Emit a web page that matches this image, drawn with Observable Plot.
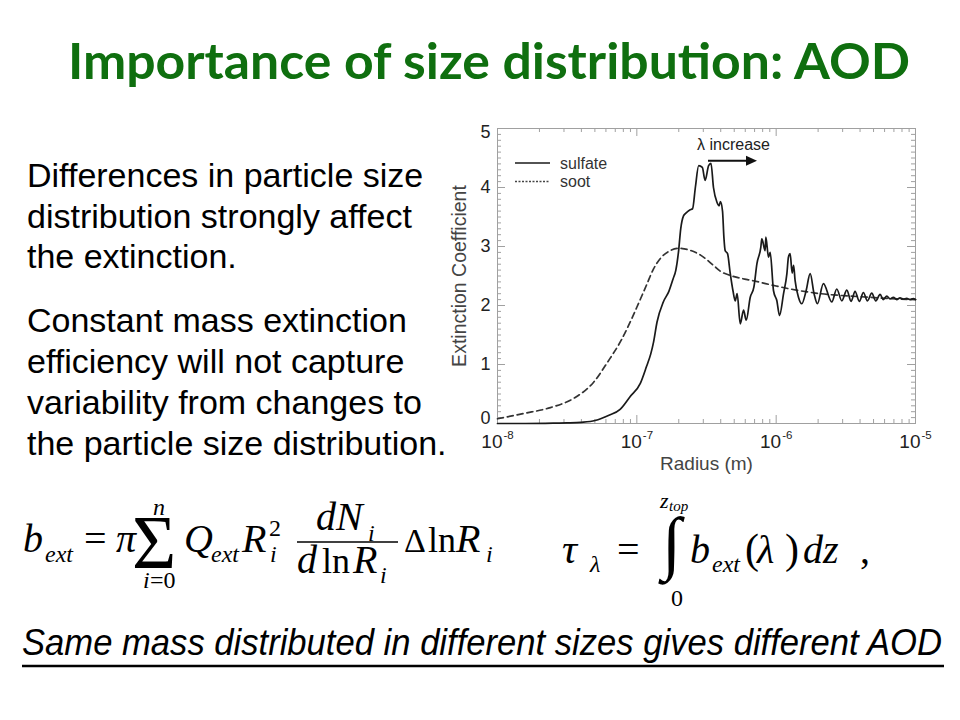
<!DOCTYPE html>
<html><head><meta charset="utf-8">
<script src="https://cdn.jsdelivr.net/npm/d3@7"></script>
<script src="https://cdn.jsdelivr.net/npm/@observablehq/plot@0.6"></script>
<style>
html,body{margin:0;padding:0;background:#fff;}
#slide{position:relative;width:960px;height:720px;overflow:hidden;background:#fff;}
#chart{position:absolute;left:440px;top:115px;}
#overlay{position:absolute;left:0;top:0;}
</style></head><body>
<div id="slide"><div id="chart"></div><svg id="overlay" width="960" height="720" xmlns="http://www.w3.org/2000/svg"></svg></div>
<script>
// ---------------- DATA ----------------
const sulfateLogR = [-8.00,-7.80,-7.60,-7.50,-7.40,-7.30,-7.20,-7.12,-7.05,-6.975,-6.93,-6.90,-6.88,-6.855,-6.81,-6.77,-6.74,-6.72,-6.70,-6.685,-6.665,-6.65,-6.62,-6.60,-6.58,-6.556,-6.53,-6.51,-6.485,-6.468,-6.45,-6.425,-6.41,-6.40,-6.385,-6.375,-6.366,-6.349,-6.33,-6.31,-6.294,-6.28,-6.258,-6.234,-6.215,-6.186,-6.16,-6.138,-6.11,-6.103,-6.079,-6.074,-6.055,-6.043,-6.019,-5.995,-5.976,-5.947,-5.923,-5.912,-5.90,-5.885,-5.875,-5.864,-5.84,-5.816,-5.785,-5.756,-5.728,-5.704,-5.661,-5.601,-5.565,-5.529,-5.493,-5.462,-5.434,-5.403,-5.374,-5.345,-5.314,-5.285,-5.254,-5.231,-5.206,-5.183,-5.159,-5.135,-5.111,-5.087,-5.063,-5.039,-5.016,-5.00];
const sulfateExt  = [0.00,0.00,0.005,0.01,0.02,0.05,0.14,0.24,0.45,0.68,0.97,1.18,1.38,1.72,2.06,2.24,2.45,2.60,2.93,3.30,3.52,3.56,3.62,3.64,4.00,4.37,4.34,4.12,4.37,4.41,4.00,3.75,3.69,3.76,3.60,3.15,2.93,2.88,2.55,2.25,2.08,2.20,1.69,1.92,1.75,2.14,2.31,2.71,2.99,3.13,2.93,3.16,2.82,2.90,2.25,2.08,1.83,2.20,2.54,2.82,2.88,2.55,2.68,2.42,2.14,2.03,2.25,2.54,2.20,2.03,2.37,2.06,2.28,2.08,2.26,2.07,2.24,2.07,2.22,2.08,2.21,2.08,2.19,2.10,2.16,2.11,2.14,2.10,2.13,2.11,2.12,2.10,2.115,2.10];
const sootLogR = [-8.00,-7.81,-7.62,-7.45,-7.31,-7.21,-7.11,-7.00,-6.93,-6.88,-6.83,-6.76,-6.70,-6.66,-6.54,-6.45,-6.40,-6.33,-6.27,-6.165,-6.00,-5.90,-5.68,-5.40,-5.20,-5.00];
const sootExt  = [0.08,0.17,0.27,0.43,0.70,1.04,1.42,1.97,2.35,2.62,2.80,2.93,2.97,2.96,2.85,2.68,2.58,2.51,2.47,2.42,2.33,2.28,2.20,2.15,2.12,2.10];
const seriesNames = ["sulfate", "soot"];
const xTickExponents = [-8, -7, -6, -5];
const yTickValues = [0, 1, 2, 3, 4, 5];
const xAxisTitle = "Radius (m)";
const yAxisTitle = "Extinction Coefficient";
const annotationText = "λ increase";
const titleText = "Importance of size distribution: AOD";
const paragraph1 = ["Differences in particle size", "distribution strongly affect", "the extinction."];
const paragraph2 = ["Constant mass extinction", "efficiency will not capture", "variability from changes to", "the particle size distribution."];
const footerText = "Same mass distributed in different sizes gives different AOD";

// ---------------- CHART ----------------
const sulfate = sulfateLogR.map((e, i) => ({r: Math.pow(10, e), v: sulfateExt[i]}));
const soot = sootLogR.map((e, i) => ({r: Math.pow(10, e), v: sootExt[i]}));
const W = 500, H = 360, mL = 57, mR = 25, mT = 13, mB = 52;
const frameH = H - mT - mB, frameW = W - mL - mR;
const majorX = xTickExponents.map(e => Math.pow(10, e));
const minorX = [];
for (const e of xTickExponents.slice(0, -1)) for (let k = 2; k <= 9; k++) minorX.push(k * Math.pow(10, e));
const minorY = d3.range(1, 50).map(k => k / 10).filter(v => Math.abs(v - Math.round(v)) > 1e-6);
const gray = "#a0a0a0";
const ink = "#222";

const chart = Plot.plot({
  width: W, height: H, marginLeft: mL, marginRight: mR, marginTop: mT, marginBottom: mB,
  x: {type: "log", domain: [1e-8, 1e-5], axis: null},
  y: {domain: [0, 5], axis: null},
  style: {fontFamily: "'Liberation Sans', Arial, sans-serif", background: "transparent", overflow: "visible"},
  marks: [
    Plot.tickX(majorX, {x: d => d, insetTop: frameH - 8, stroke: gray}),
    Plot.tickX(majorX, {x: d => d, insetBottom: frameH - 8, stroke: gray}),
    Plot.tickX(minorX, {x: d => d, insetTop: frameH - 4, stroke: gray}),
    Plot.tickX(minorX, {x: d => d, insetBottom: frameH - 4, stroke: gray}),
    Plot.tickY(yTickValues, {y: d => d, insetRight: frameW - 8, stroke: gray}),
    Plot.tickY(yTickValues, {y: d => d, insetLeft: frameW - 8, stroke: gray}),
    Plot.tickY(minorY, {y: d => d, insetRight: frameW - 4, stroke: gray}),
    Plot.tickY(minorY, {y: d => d, insetLeft: frameW - 4, stroke: gray}),
    Plot.frame({stroke: gray}),
    Plot.line(soot, {x: "r", y: "v", stroke: "#333", strokeWidth: 1.7, strokeDasharray: "6,4", curve: "monotone-x"}),
    Plot.line(sulfate, {x: "r", y: "v", stroke: "#1a1a1a", strokeWidth: 1.7, curve: "monotone-x"}),
    Plot.text(yTickValues.filter(v => v > 0 && v < 5), {y: d => d, text: d => String(d), frameAnchor: "left", textAnchor: "end", lineAnchor: "middle", dx: -7, fontSize: 18, fill: ink}),
    Plot.text(yTickValues.filter(v => v === 5), {y: d => d, text: d => String(d), frameAnchor: "left", textAnchor: "end", lineAnchor: "middle", dx: -7, dy: 4, fontSize: 18, fill: ink}),
    Plot.text(yTickValues.filter(v => v === 0), {y: d => d, text: d => String(d), frameAnchor: "left", textAnchor: "end", lineAnchor: "middle", dx: -7, dy: -5, fontSize: 18, fill: ink}),
    Plot.text(xTickExponents, {x: d => Math.pow(10, d), text: () => "10", frameAnchor: "bottom", textAnchor: "end", lineAnchor: "middle", dx: 5, dy: 18, fontSize: 19, fill: ink}),
    Plot.text(xTickExponents, {x: d => Math.pow(10, d), text: d => String(d), frameAnchor: "bottom", textAnchor: "start", lineAnchor: "middle", dx: 6, dy: 12, fontSize: 11.5, fill: ink}),
    Plot.text([xAxisTitle], {text: d => d, frameAnchor: "bottom", textAnchor: "middle", lineAnchor: "middle", dy: 40, fontSize: 19, fill: "#444"}),
    Plot.text([yAxisTitle], {text: d => d, frameAnchor: "left", textAnchor: "middle", lineAnchor: "middle", rotate: -90, dx: -38, fontSize: 19.5, fill: "#444"})
  ]
});
document.getElementById("chart").appendChild(chart);

// ---------------- SLIDE TEXT / LEGEND / ANNOTATION ----------------
const NS = "http://www.w3.org/2000/svg";
const ov = document.getElementById("overlay");
function el(tag, attrs, text) {
  const e = document.createElementNS(NS, tag);
  for (const k in attrs) e.setAttribute(k, attrs[k]);
  if (text != null) e.textContent = text;
  ov.appendChild(e);
  return e;
}
// title
el("text", {x: 68, y: 79, "font-family": "Lato, 'Open Sans', sans-serif", "font-weight": 700, "font-size": 50, fill: "#0f6f0f", textLength: 842, lengthAdjust: "spacingAndGlyphs"}, titleText);
// body text
const sans = "'Liberation Sans', Arial, sans-serif";
const base1 = [187, 228, 268], base2 = [332, 373, 414, 455];
paragraph1.forEach((t, i) => el("text", {x: 27, y: base1[i], "font-family": sans, "font-size": 34, fill: "#000"}, t));
paragraph2.forEach((t, i) => el("text", {x: 27, y: base2[i], "font-family": sans, "font-size": 34, fill: "#000"}, t));

// legend (inside chart)
el("line", {x1: 515, x2: 550, y1: 163, y2: 163, stroke: "#1a1a1a", "stroke-width": 1.7});
el("text", {x: 560, y: 169, "font-family": sans, "font-size": 16, fill: "#333"}, seriesNames[0]);
el("line", {x1: 515, x2: 550, y1: 181.5, y2: 181.5, stroke: "#444", "stroke-width": 1.3, "stroke-dasharray": "2,1.5"});
el("text", {x: 560, y: 187, "font-family": sans, "font-size": 16, fill: "#333"}, seriesNames[1]);
// annotation
el("text", {x: 697, y: 150, "font-family": sans, "font-size": 16, fill: "#222"}, annotationText);
el("line", {x1: 708, x2: 748, y1: 160.7, y2: 160.7, stroke: "#111", "stroke-width": 2});
el("path", {d: "M746,155.7 L757,160.7 L746,165.7 Z", fill: "#111"});

// formulas
const serif = "'Liberation Serif', 'Times New Roman', serif";
const pieces = [
  ["b", 23, 552, 40, 1], ["ext", 45, 562, 24, 1], ["=", 84, 552, 40, 0], ["π", 116, 552, 40, 1],
  ["Σ", 132, 568, 76, 0], ["n", 153, 515, 24, 1], ["i", 143, 588, 24, 1], ["=0", 150, 588, 24, 0],
  ["Q", 184, 552, 40, 1], ["ext", 211, 562, 24, 1], ["R", 242, 552, 40, 1], ["2", 269, 536, 24, 0], ["i", 270, 562, 24, 1],
  ["dN", 316, 530, 40, 1], ["i", 368, 541, 24, 1],
  ["d", 297, 573, 40, 1], ["ln", 322, 573, 36, 0], ["R", 353, 573, 40, 1], ["i", 380, 583, 24, 1],
  ["Δ", 404, 552, 34, 0], ["ln", 428, 552, 36, 0], ["R", 456, 552, 40, 1], ["i", 486, 562, 24, 1],
  ["τ", 562, 563, 42, 1], ["λ", 590, 572, 24, 1], ["=", 617, 563, 40, 0],
  ["∫", 662, 566, 70, 0], ["z", 660, 508, 22, 1], ["top", 669, 511, 15, 1], ["0", 671, 606, 24, 0],
  ["b", 690, 563, 40, 1], ["ext", 712, 572, 24, 1], ["(", 745, 563, 42, 0], ["λ", 757, 563, 40, 1], [")", 785, 563, 42, 0],
  ["dz", 803, 563, 40, 1], [",", 860, 563, 40, 0]
];
pieces.forEach(([t, x, y, s, it]) => el("text", {x, y, "font-family": serif, "font-size": s, "font-style": it ? "italic" : "normal", fill: "#000"}, t));
el("line", {x1: 297, x2: 398, y1: 542, y2: 542, stroke: "#000", "stroke-width": 1.5});

// footer
el("text", {x: 22, y: 655, "font-family": "'Liberation Sans Narrow', 'Liberation Sans', Arial, sans-serif", "font-style": "italic", "font-size": 37, fill: "#000", textLength: 920, lengthAdjust: "spacingAndGlyphs"}, footerText);
el("line", {x1: 22, x2: 944, y1: 666, y2: 666, stroke: "#000", "stroke-width": 2.5});
</script>
</body></html>
